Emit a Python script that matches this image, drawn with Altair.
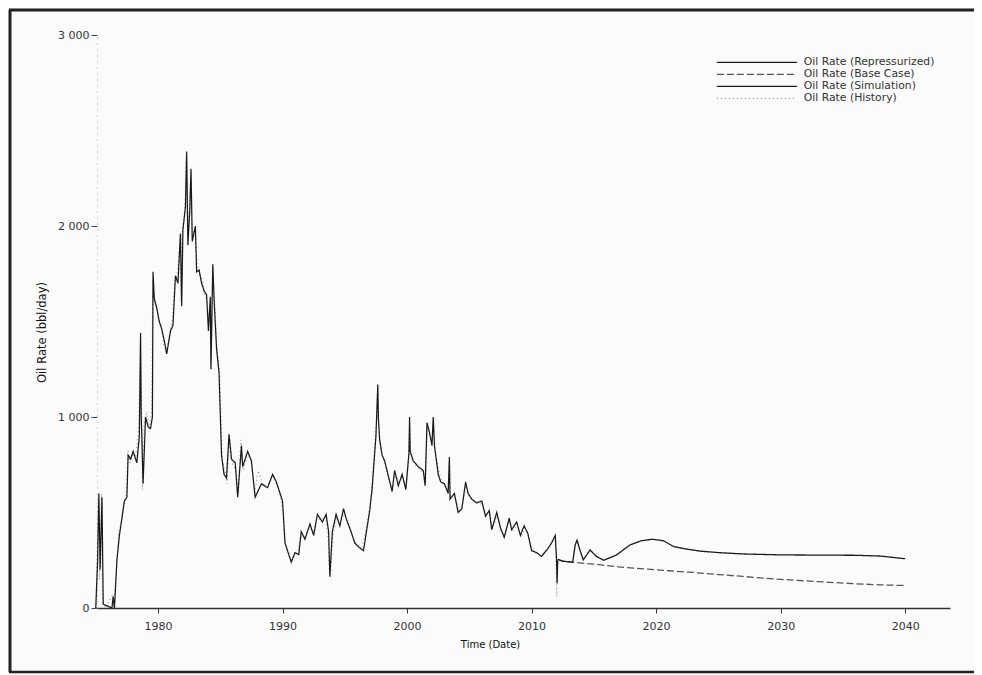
import altair as alt
import pandas as pd

# ---- data ----
series_names = ["Oil Rate (Repressurized)", "Oil Rate (Base Case)",
                "Oil Rate (Simulation)", "Oil Rate (History)"]

hist_year = [1975.05, 1975.12, 1975.2, 1975.3, 1975.45, 1975.55, 1975.8, 1976.35, 1976.45, 1976.65,
             1976.85, 1977.05, 1977.25, 1977.45, 1977.6, 1977.75, 1977.95, 1978.2, 1978.45, 1978.58,
             1978.68, 1978.75, 1978.9, 1979.1, 1979.3, 1979.5, 1979.58, 1979.72, 1979.9, 1980.05,
             1980.25, 1980.45, 1980.65, 1980.9, 1981.15, 1981.35, 1981.55, 1981.75, 1981.85, 1981.95,
             1982.15, 1982.28, 1982.38, 1982.52, 1982.62, 1982.72, 1982.95, 1983.15, 1983.35, 1983.55,
             1983.75, 1983.95, 1984.1, 1984.18, 1984.28, 1984.38, 1984.55, 1984.75, 1984.95, 1985.05,
             1985.15, 1985.35, 1985.55, 1985.75, 1985.95, 1986.25, 1986.45, 1986.65, 1986.85, 1987.15,
             1987.45, 1987.75, 1988.05, 1988.45, 1988.85, 1989.25, 1989.55, 1989.85, 1990.05, 1990.15,
             1990.35, 1990.65, 1990.95, 1991.25, 1991.45, 1991.75, 1992.15, 1992.45, 1992.75, 1993.15,
             1993.45, 1993.68, 1993.75, 1993.85, 1994.05, 1994.35, 1994.65, 1994.95, 1995.15, 1995.45,
             1995.75, 1996.05, 1996.4, 1996.9, 1997.15, 1997.35, 1997.55, 1997.62, 1997.72, 1997.85,
             1998.05, 1998.25, 1998.55, 1998.85, 1999.05, 1999.35, 1999.65, 1999.95, 2000.12, 2000.22,
             2000.3, 2000.55, 2000.95, 2001.35, 2001.5, 2001.62, 2001.82, 2002.02, 2002.12, 2002.25,
             2002.55, 2002.75, 2003.05, 2003.3, 2003.38, 2003.5, 2003.85, 2004.15, 2004.45, 2004.72,
             2004.95, 2005.25, 2005.65, 2006.05, 2006.35, 2006.65, 2006.85, 2007.25, 2007.55, 2007.85,
             2008.25, 2008.45, 2008.85, 2009.15, 2009.45, 2009.75, 2010.05, 2010.45, 2010.85, 2011.35,
             2011.65, 2011.85, 2011.95, 2012.02, 2012.08]
hist_rate = [0, 300, 560, 150, 600, 30, 0, 70, 0, 200,
             400, 450, 540, 600, 830, 760, 800, 780, 950, 1380,
             1050, 620, 980, 1030, 920, 1050, 1720, 1600, 1580, 1510,
             1480, 1380, 1340, 1420, 1500, 1710, 1760, 1900, 1600, 2000,
             2050, 2350, 1950, 2100, 2250, 1950, 1980, 1800, 1740, 1720,
             1640, 1600, 1480, 1600, 1280, 1780, 1600, 1340, 1250, 1000,
             780, 720, 650, 890, 760, 720, 600, 880, 720, 800,
             790, 600, 720, 640, 650, 690, 640, 580, 480, 360,
             320, 250, 270, 300, 380, 370, 420, 400, 470, 460,
             480, 350, 200, 160, 380, 470, 440, 500, 460, 410,
             350, 330, 320, 480, 600, 820, 980, 1120, 950, 830,
             790, 750, 660, 630, 700, 660, 690, 640, 780, 960,
             800, 760, 730, 700, 650, 940, 900, 880, 980, 820,
             720, 670, 640, 620, 760, 590, 580, 520, 540, 640,
             590, 560, 560, 540, 490, 490, 420, 480, 400, 380,
             460, 400, 440, 370, 420, 380, 310, 280, 280, 320,
             350, 370, 280, 60, 200]

sim_year = [1975.0, 1975.15, 1975.25, 1975.35, 1975.5, 1975.6, 1976.3, 1976.4, 1976.5, 1976.7,
            1976.9, 1977.1, 1977.3, 1977.5, 1977.6, 1977.8, 1978.0, 1978.3, 1978.5, 1978.6,
            1978.65, 1978.7, 1978.8, 1979.0, 1979.2, 1979.4, 1979.55, 1979.6, 1979.7, 1979.9,
            1980.1, 1980.3, 1980.5, 1980.7, 1981.0, 1981.2, 1981.4, 1981.6, 1981.8, 1981.9,
            1982.0, 1982.2, 1982.3, 1982.4, 1982.55, 1982.65, 1982.75, 1983.0, 1983.1, 1983.3,
            1983.5, 1983.7, 1983.9, 1984.05, 1984.2, 1984.25, 1984.4, 1984.5, 1984.7, 1984.9,
            1985.1, 1985.3, 1985.5, 1985.7, 1985.9, 1986.2, 1986.4, 1986.7, 1986.8, 1987.2,
            1987.5, 1987.8, 1988.3, 1988.8, 1989.2, 1989.5, 1989.8, 1990.0, 1990.2, 1990.4,
            1990.7, 1991.0, 1991.3, 1991.5, 1991.8, 1992.2, 1992.5, 1992.8, 1993.2, 1993.5,
            1993.7, 1993.8, 1994.0, 1994.3, 1994.6, 1994.9, 1995.1, 1995.5, 1995.8, 1996.1,
            1996.5, 1997.0, 1997.2, 1997.5, 1997.65, 1997.7, 1997.8, 1998.0, 1998.2, 1998.5,
            1998.8, 1999.0, 1999.3, 1999.6, 1999.9, 2000.15, 2000.2, 2000.25, 2000.5, 2000.9,
            2001.3, 2001.45, 2001.6, 2001.8, 2002.0, 2002.1, 2002.2, 2002.5, 2002.7, 2003.0,
            2003.3, 2003.4, 2003.45, 2003.8, 2004.1, 2004.4, 2004.7, 2004.9, 2005.2, 2005.6,
            2006.0, 2006.3, 2006.6, 2006.8, 2007.2, 2007.5, 2007.8, 2008.2, 2008.4, 2008.8,
            2009.1, 2009.4, 2009.7, 2010.0, 2010.4, 2010.8, 2011.3, 2011.6, 2011.9, 2012.0,
            2012.05, 2012.1]
sim_rate = [0, 250, 600, 200, 580, 20, 0, 60, 0, 250,
            380, 470, 560, 580, 800, 780, 820, 760, 900, 1440,
            1000, 900, 650, 1000, 950, 940, 1000, 1760, 1620, 1570,
            1500, 1460, 1400, 1330, 1450, 1480, 1740, 1700, 1960, 1580,
            1980, 2100, 2390, 1900, 2080, 2300, 1920, 2000, 1760, 1770,
            1700, 1660, 1640, 1450, 1630, 1250, 1800, 1620, 1360, 1230,
            800, 700, 680, 910, 780, 760, 580, 850, 740, 820,
            770, 580, 650, 630, 700, 660, 600, 560, 340, 300,
            240, 290, 280, 400, 360, 440, 380, 490, 450, 490,
            400, 165, 400, 490, 430, 520, 470, 400, 340, 320,
            300, 510, 630, 900, 1170, 990, 880, 800, 770, 690,
            610, 720, 640, 700, 620, 810, 1000, 820, 770, 740,
            720, 640, 970, 920, 850, 1000, 850, 700, 660, 650,
            600, 790, 570, 600, 500, 520, 660, 600, 570, 550,
            560, 480, 510, 410, 500, 420, 370, 470, 410, 450,
            380, 430, 390, 300, 290, 270, 310, 340, 380, 260,
            130, 250]

base_year = [2012.1, 2012.5, 2013.5, 2015.0, 2017.0, 2019.0, 2021.0, 2023.0, 2025.0, 2027.0,
             2030.0, 2033.0, 2036.0, 2038.0, 2040.0]
base_rate = [255, 245, 238, 230, 215, 205, 195, 186, 175, 165,
             150, 138, 127, 121, 118]

rep_year = [2012.1, 2012.5, 2013.3, 2013.5, 2013.65, 2013.9, 2014.15, 2014.7, 2015.2, 2015.8,
            2016.8, 2017.9, 2018.8, 2019.7, 2020.6, 2021.4, 2022.3, 2023.5, 2025.0, 2027.0,
            2030.0, 2033.0, 2036.0, 2038.0, 2040.0]
rep_rate = [255, 245, 240, 330, 355, 300, 252, 304, 270, 250,
            277, 330, 352, 360, 352, 322, 310, 298, 290, 283,
            278, 277, 276, 272, 258]

x_ticks = [1980, 1990, 2000, 2010, 2020, 2030, 2040]
y_ticks = [0, 1000, 2000, 3000]

rows = []
for yr, v in zip(hist_year, hist_rate):
    rows.append({"year": yr, "rate": v, "series": series_names[3], "k": 0})
for yr, v in zip(sim_year, sim_rate):
    rows.append({"year": yr, "rate": v, "series": series_names[2], "k": 1})
for yr, v in zip(base_year, base_rate):
    rows.append({"year": yr, "rate": v, "series": series_names[1], "k": 2})
for yr, v in zip(rep_year, rep_rate):
    rows.append({"year": yr, "rate": v, "series": series_names[0], "k": 3})
df = pd.DataFrame(rows)

FONT = "DejaVu Sans"
TXT = "#333333"

lines = alt.Chart(df).mark_line(interpolate="linear").encode(
    x=alt.X("year:Q",
            scale=alt.Scale(domain=[1975.1, 2043.6], nice=False, zero=False),
            axis=alt.Axis(values=x_ticks, format="d", title="Time (Date)", grid=False,
                          domainColor="#333333", domainWidth=1.6, tickColor="#333333",
                          tickSize=5, labelPadding=7, labelFontSize=11, labelColor=TXT,
                          labelFont=FONT, titleFont=FONT, titleFontSize=10,
                          titleFontWeight="normal", titleColor="#111111", titlePadding=8,
                          titleX=393)),
    y=alt.Y("rate:Q",
            scale=alt.Scale(domain=[0, 3000], nice=False),
            axis=alt.Axis(values=y_ticks, title="Oil Rate (bbl/day)", grid=False,
                          labelExpr="replace(format(datum.value, ','), ',', ' ')",
                          domainColor="#aaaaaa", domainDash=[1, 5], domainWidth=1.2,
                          tickColor="#444444", tickSize=6, labelPadding=2,
                          labelFontSize=11, labelColor=TXT, labelFont=FONT,
                          titleFont=FONT, titleFontSize=11.5, titleFontWeight="normal",
                          titleColor="#111111", titlePadding=10, titleY=297)),
    color=alt.Color("series:N",
                    scale=alt.Scale(domain=series_names,
                                    range=["#1a1a1a", "#555555", "#1a1a1a", "#9a9a9a"]),
                    legend=alt.Legend(title=None, orient="none", legendX=692, legendY=22,
                                      symbolType="M-31,0H1", symbolSize=25,
                                      labelFont=FONT, labelFontSize=10.8, labelColor=TXT,
                                      labelOffset=4, rowPadding=0, symbolOffset=0)),
    strokeDash=alt.StrokeDash("series:N",
                              scale=alt.Scale(domain=series_names,
                                              range=[[1, 0], [7, 3], [1, 0], [1, 3]]),
                              legend=alt.Legend(title=None)),
    strokeWidth=alt.StrokeWidth("series:N",
                                scale=alt.Scale(domain=series_names,
                                                range=[1.3, 1.2, 1.6, 1.5]),
                                legend=alt.Legend(title=None)),
    order=alt.Order("year:Q"),
    detail="k:N",
)

# scanned page frame (left, top, bottom edges)
frame_left = alt.Chart(pd.DataFrame({"a": [0]})).mark_rule(color="#222222", strokeWidth=3).encode(
    x=alt.value(-87), y=alt.value(-25), y2=alt.value(637))
frame_top = alt.Chart(pd.DataFrame({"a": [0]})).mark_rule(color="#222222", strokeWidth=3).encode(
    x=alt.value(-88), x2=alt.value(880), y=alt.value(-25))
frame_bottom = alt.Chart(pd.DataFrame({"a": [0]})).mark_rule(color="#222222", strokeWidth=2.5).encode(
    x=alt.value(-88), x2=alt.value(880), y=alt.value(637))

chart = alt.layer(lines, frame_left, frame_top, frame_bottom).properties(
    width=853, height=573,
    autosize=alt.AutoSizeParams(type="none"),
    padding={"left": 89, "top": 27, "right": 24, "bottom": 66},
    background="#fbfbfb",
).configure_view(stroke=None)

chart.save("out.html", embed_options={"renderer": "svg", "actions": False})
